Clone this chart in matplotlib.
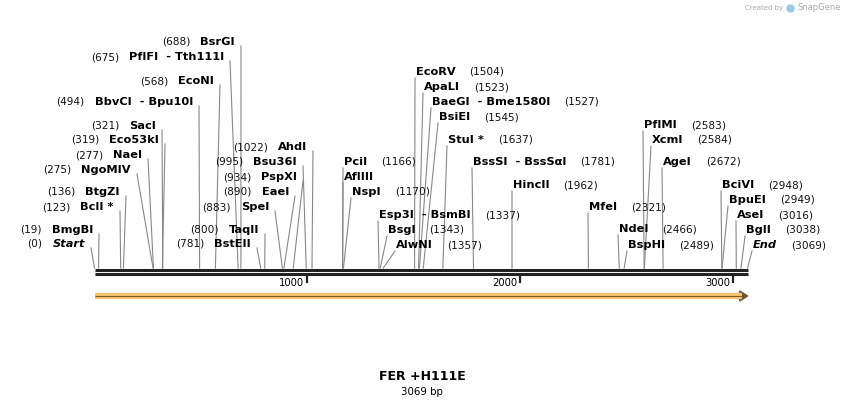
import matplotlib
matplotlib.use("Agg")
import matplotlib.pyplot as plt

# ---- data ----
left_names = ["BsrGI", "PflFI  - Tth111I", "EcoNI", "BbvCI  - Bpu10I", "SacI", "Eco53kI", "NaeI",
              "NgoMIV", "BtgZI", "BclI *", "BmgBI", "Start",
              "AhdI", "Bsu36I", "PspXI", "EaeI", "SpeI", "TaqII", "BstEII"]
left_pos = [688, 675, 568, 494, 321, 319, 277, 275, 136, 123, 19, 0,
            1022, 995, 934, 890, 883, 800, 781]
right_names = ["EcoRV", "ApaLI", "BaeGI  - Bme1580I", "BsiEI", "StuI *", "PciI", "AflIII", "NspI",
               "BssSI  - BssSαI", "HincII", "MfeI", "Esp3I  - BsmBI", "BsgI", "AlwNI",
               "PflMI", "XcmI", "AgeI", "BciVI", "BpuEI", "AseI", "BglI", "End", "NdeI", "BspHI"]
right_pos = [1504, 1523, 1527, 1545, 1637, 1166, 1166, 1170, 1781, 1962, 2321, 1337, 1343, 1357,
             2583, 2584, 2672, 2948, 2949, 3016, 3038, 3069, 2466, 2489]
right_show_num = [True]*6 + [False] + [True]*17
seq_len = 3069
tick_vals = [1000, 2000, 3000]
title = "FER +H111E"

# ---- layout (pixels) ----
left_x = [235, 224, 214, 193, 156, 159, 142, 131, 120, 114, 93, 85, 307, 297, 297, 289, 269, 259, 251]
left_y = [42, 57, 81, 102, 126, 140, 155, 170, 192, 207, 230, 244, 147, 162, 177, 192, 207, 230, 244]
right_x = [416, 424, 432, 439, 448, 344, 344, 352, 473, 513, 589, 379, 388, 396,
           644, 652, 663, 722, 729, 737, 746, 753, 619, 628]
right_y = [72, 87, 102, 117, 140, 162, 177, 192, 162, 185, 207, 215, 230, 245,
           125, 140, 162, 185, 200, 215, 230, 245, 229, 245]
X0, S = 94.5, 0.2128
BB = 268

def bx(bp):
    return X0 + bp * S

fig = plt.figure(figsize=(8.44, 4.08), dpi=100)
ax = fig.add_axes([0, 0, 1, 1])
ax.set_xlim(0, 844); ax.set_ylim(408, 0); ax.axis("off")
fs = 8.2
nfs = 7.6
fig.canvas.draw()
r = fig.canvas.get_renderer()

def width_px(t):
    return t.get_window_extent(r).width

for n, p, x, y in zip(left_names, left_pos, left_x, left_y):
    st = "italic" if n == "Start" else "normal"
    t = ax.text(x, y, n, ha="right", va="center", fontsize=fs, fontweight="bold", style=st)
    w = width_px(t)
    ax.text(x - w - 10, y, f"({p})", ha="right", va="center", fontsize=nfs, color="#111")
    ax.plot([x + 6, bx(p)], [y + 4, BB], color="#888", lw=0.8)

for n, p, x, y, sh in zip(right_names, right_pos, right_x, right_y, right_show_num):
    st = "italic" if n == "End" else "normal"
    t = ax.text(x, y, n, ha="left", va="center", fontsize=fs, fontweight="bold", style=st)
    w = width_px(t)
    if sh:
        ax.text(x + w + 14, y, f"({p})", ha="left", va="center", fontsize=nfs, color="#111")
    ax.plot([x - 1, bx(p)], [y + 6, BB], color="#888", lw=0.8)

# backbone
ax.plot([bx(0), bx(seq_len)], [270, 270], color="#222", lw=2.2, solid_capstyle="butt")
ax.plot([bx(0), bx(seq_len)], [273.5, 273.5], color="#222", lw=2.2, solid_capstyle="butt")
for tv in tick_vals:
    ax.plot([bx(tv), bx(tv)], [275, 282], color="#222", lw=1.6)
    ax.text(bx(tv) - 3, 283, str(tv), ha="right", va="center", fontsize=nfs - 0.4)

# feature arrow
ax.plot([bx(0), bx(seq_len) - 6], [296, 296], color="#f7c472", lw=4.5, solid_capstyle="butt")
ax.plot([bx(0), bx(seq_len) - 6], [296, 296], color="#7a5a20", lw=0.8, solid_capstyle="butt")
ax.fill([bx(seq_len) - 8, bx(seq_len), bx(seq_len) - 8], [291, 296, 301], color="#6b5530")

ax.text(422, 377, title, ha="center", va="center", fontsize=9, fontweight="bold")
ax.text(422, 392, f"{seq_len} bp", ha="center", va="center", fontsize=7.4)
ax.text(783, 8, "Created by", ha="right", va="center", fontsize=5, color="#aaa")
ax.text(797, 8, "SnapGene", ha="left", va="center", fontsize=6, color="#aaa")
ax.plot([790], [8], "o", color="#9cc8e8", ms=5)

fig.savefig("out.png", dpi=100)
